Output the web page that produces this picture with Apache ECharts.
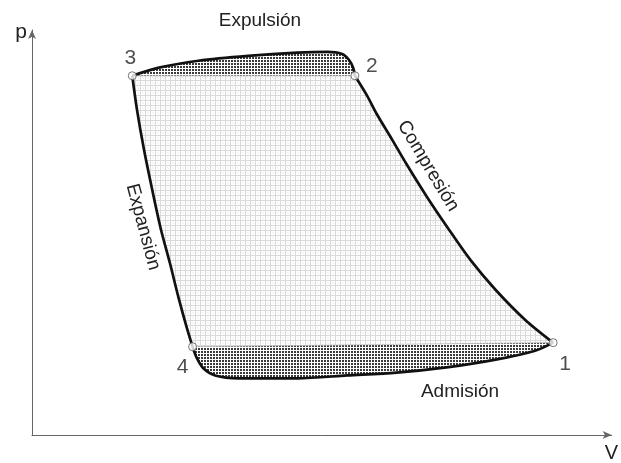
<!DOCTYPE html>
<html><head><meta charset="utf-8">
<script src="https://cdn.jsdelivr.net/npm/echarts/dist/echarts.min.js"></script>
<style>html,body{margin:0;padding:0;background:#fff}#c{width:621px;height:463px}</style>
</head><body><div id="c"></div>
<script>
// Cycle curves (V, p) in arbitrary units (0..100)
const expulsion = [[17.3,88.7],[21.9,90.7],[28.7,92.4],[37.3,93.6],[45.8,94.4],[50.9,94.6],[53.5,94.1],[54.7,92.6],[55.4,90.7],[55.7,88.7]];
const compresion = [[55.7,88.7],[57.8,83.8],[59.5,79.2],[62.1,73.0],[64.6,66.9],[68.0,59.1],[71.8,51.0],[75.7,43.1],[80.0,35.8],[85.1,28.4],[89.9,22.8]];
const admision = [[89.9,22.8],[86.8,20.8],[80.0,18.6],[71.5,16.7],[62.9,15.4],[54.4,14.7],[45.8,14.0],[35.6,14.0],[31.6,14.7],[29.6,16.4],[28.4,19.1],[27.7,21.8]];
const expansion = [[27.7,21.8],[26.7,26.5],[25.3,33.8],[23.8,42.4],[22.2,51.0],[20.7,60.8],[19.3,70.6],[18.1,80.4],[17.3,88.7]];
const puntosNombres = ['1','2','3','4'];
const puntosValores = [[89.9,22.8],[55.7,88.7],[17.3,88.7],[27.7,21.8]];
const etiquetas = ['Expulsión','Compresión','Admisión','Expansión'];

function makePattern(size, draw){
  const c = document.createElement('canvas');
  c.width = size; c.height = size;
  const g = c.getContext('2d');
  g.fillStyle = '#ffffff'; g.fillRect(0,0,size,size);
  draw(g);
  return {image: c, repeat: 'repeat'};
}
const lightPattern = makePattern(5, g => {
  g.fillStyle = '#d9d9d9'; g.fillRect(0,0,5,1); g.fillRect(0,0,1,5);
  g.fillStyle = '#ececec'; g.fillRect(2,2,1,1); g.fillRect(3,3,1,1);
});
const darkPattern = makePattern(3, g => {
  g.fillStyle = '#3a3a3a'; g.fillRect(0,0,2,2);
});

const regions = [
  {pts: compresion.concat(expansion), fill: lightPattern},
  {pts: expulsion, fill: darkPattern},
  {pts: admision, fill: darkPattern}
];

const labelOffsets = {'1':[12,22],'2':[17,-10],'3':[-2,-18],'4':[-10,20]};

const chart = echarts.init(document.getElementById('c'), null, {renderer:'canvas'});
const lineStyle = {color:'#111', width:2.7};
function curve(data){
  return {type:'line', data, smooth:0.3, symbol:'none', lineStyle, z:5, silent:true, animation:false};
}
const option = {
  animation:false,
  backgroundColor:'#fff',
  grid:{left:32, top:30, right:4, bottom:25, containLabel:false},
  xAxis:{type:'value', min:0, max:100, name:'V', nameLocation:'end', nameGap:-7,
    nameTextStyle:{fontFamily:'Liberation Sans', fontSize:20, color:'#222', align:'left', verticalAlign:'top', padding:[8,0,0,0]},
    axisLine:{show:true, lineStyle:{color:'#666', width:1}, symbol:['none','arrow'], symbolSize:[6,9]},
    axisTick:{show:false}, axisLabel:{show:false}, splitLine:{show:false}},
  yAxis:{type:'value', min:0, max:100, name:'p', nameLocation:'end', nameGap:-2,
    nameTextStyle:{fontFamily:'Liberation Sans', fontSize:21, color:'#222', align:'right', verticalAlign:'middle', padding:[0,5,0,0]},
    axisLine:{show:true, lineStyle:{color:'#666', width:1}, symbol:['none','arrow'], symbolSize:[6,9]},
    axisTick:{show:false}, axisLabel:{show:false}, splitLine:{show:false}},
  graphic:[
    {type:'text', x:260, y:21, style:{text:etiquetas[0], font:'19px "Liberation Sans"', fill:'#222', align:'center', verticalAlign:'middle'}},
    {type:'text', x:428, y:166, rotation:-59*Math.PI/180, style:{text:etiquetas[1], font:'19px "Liberation Sans"', fill:'#222', align:'center', verticalAlign:'middle'}},
    {type:'text', x:460, y:392, style:{text:etiquetas[2], font:'19px "Liberation Sans"', fill:'#222', align:'center', verticalAlign:'middle'}},
    {type:'text', x:143, y:227, rotation:-75*Math.PI/180, style:{text:etiquetas[3], font:'19px "Liberation Sans"', fill:'#222', align:'center', verticalAlign:'middle'}}
  ],
  series:[
    {type:'custom', coordinateSystem:'cartesian2d', silent:true, clip:false, z:1,
      data: regions.map((r,i)=>[i,0]),
      encode:{x:0,y:1},
      renderItem:(params, api)=>{
        const r = regions[params.dataIndex];
        return {type:'polygon', shape:{points:r.pts.map(p=>api.coord(p))}, style:{fill:r.fill, stroke:'#bbb', lineWidth:0.6}};
      }},
    curve(expulsion), curve(compresion), curve(admision), curve(expansion),
    {type:'scatter', z:10, symbol:'circle', symbolSize:8,
      itemStyle:{color:'#fff', borderColor:'#555', borderWidth:1},
      data: puntosNombres.map((n,i)=>({name:n, value:puntosValores[i],
        label:{show:true, position:'inside', offset:labelOffsets[n], formatter:'{b}', fontFamily:'Liberation Sans', fontSize:21, color:'#222'}}))
    }
  ]
};
chart.setOption(option);
</script>
</body></html>
